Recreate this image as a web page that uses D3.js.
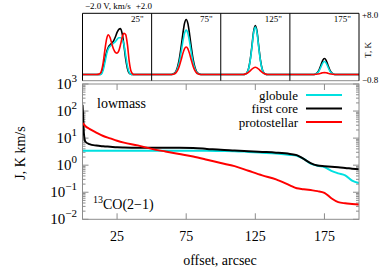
<!DOCTYPE html>
<html>
<head>
<meta charset="utf-8">
<script src="https://cdn.jsdelivr.net/npm/d3@7/dist/d3.min.js"></script>
<style>
  body { margin: 0; background: #fff; }
  text { font-family: "Liberation Serif", "Times New Roman", serif; fill: #000; }
</style>
</head>
<body>
<svg id="chart" width="389" height="272"></svg>
<script>
// ---- profile data (J vs offset) ----
let offsets = [0, 0.5, 1, 2, 5, 10, 15, 20, 25, 30, 40, 50, 60, 70, 80, 90, 100, 110, 120, 130,
               140, 150, 155, 160, 165, 170, 175, 180, 185, 190, 195, 200];
let globule = [3.4, 3.4, 3.4, 3.4, 3.4, 3.4, 3.4, 3.4, 3.4, 3.4, 3.4, 3.4, 3.4, 3.4, 3.4, 3.4, 3.35, 3.3, 3.1, 2.9,
               2.7, 2.4, 2.2, 1.7, 1.15, 0.95, 0.85, 0.62, 0.5, 0.42, 0.27, 0.22];
let firstCore = [170, 60, 15, 7.5, 6.0, 5.3, 5.0, 4.8, 4.6, 4.5, 4.4, 4.4, 4.4, 4.4, 4.3, 4.0, 3.7, 3.5, 3.3, 3.1,
                 2.9, 2.6, 2.35, 1.7, 1.2, 0.98, 0.92, 0.87, 0.83, 0.79, 0.74, 0.7];
let protostellar = [36, 34, 32, 28, 22, 16, 12, 9.8, 8.0, 6.8, 5.4, 4.0, 3.2, 2.6, 2.1, 1.6, 1.2, 0.92, 0.62, 0.42,
                    0.3, 0.18, 0.14, 0.13, 0.12, 0.11, 0.095, 0.06, 0.043, 0.039, 0.037, 0.035];

let seriesNames = ["globule", "first core", "protostellar"];
let seriesColors = ["#00e0e0", "#000000", "#ff0000"];

let yTicks = [1e-2, 1e-1, 1e0, 1e1, 1e2, 1e3];
let yTickExp = ["\u22122", "\u22121", "0", "1", "2", "3"];
let xTicks = [25, 75, 125, 175];

// ---- spectra (T vs V) at four offsets ----
let specOffsets = [25, 75, 125, 175];
let specLabels = ["25\"", "75\"", "125\"", "175\""];
let vel = [-2.0, -1.2, -1.0, -0.9, -0.8, -0.7, -0.6, -0.5, -0.4, -0.3, -0.2, -0.1, 0, 0.1, 0.2, 0.3,
           0.4, 0.5, 0.6, 0.7, 0.8, 0.9, 1.0, 1.2, 2.0];
let specGlobule = [
  [0, 0, 0, 0.1, 0.6, 1.6, 2.7, 3.4, 3.7, 3.9, 4.1, 4.3, 4.6, 4.8, 4.8, 4.6, 3.9, 2.5, 1.1, 0.3, 0.05, 0, 0, 0, 0],
  [0, 0, 0, 0, 0.03, 0.1, 0.3, 0.8, 1.6, 2.8, 4.2, 5.35, 5.8, 5.35, 4.2, 2.8, 1.6, 0.8, 0.3, 0.1, 0.03, 0, 0, 0, 0],
  [0, 0, 0, 0, 0, 0, 0.04, 0.18, 0.65, 1.75, 3.5, 5.4, 6.2, 5.4, 3.5, 1.75, 0.65, 0.18, 0.04, 0, 0, 0, 0, 0, 0],
  [0, 0, 0, 0, 0, 0, 0.02, 0.07, 0.22, 0.52, 1.0, 1.5, 1.7, 1.5, 1.0, 0.52, 0.22, 0.07, 0.02, 0, 0, 0, 0, 0, 0]
];
let specFirstCore = [
  [0, 0, 0, 0.2, 0.9, 2.0, 3.0, 3.6, 3.9, 4.1, 4.4, 4.9, 5.5, 5.9, 6.0, 5.3, 3.8, 2.0, 0.8, 0.2, 0.05, 0, 0, 0, 0],
  [0, 0, 0, 0, 0.05, 0.15, 0.4, 1.0, 2.0, 3.5, 5.2, 6.65, 7.2, 6.65, 5.2, 3.5, 2.0, 1.0, 0.4, 0.15, 0.05, 0, 0, 0, 0],
  [0, 0, 0, 0, 0, 0, 0.05, 0.2, 0.7, 1.85, 3.65, 5.6, 6.4, 5.6, 3.65, 1.85, 0.7, 0.2, 0.05, 0, 0, 0, 0, 0, 0],
  [0, 0, 0, 0, 0, 0, 0.02, 0.09, 0.27, 0.65, 1.25, 1.85, 2.1, 1.85, 1.25, 0.65, 0.27, 0.09, 0.02, 0, 0, 0, 0, 0, 0]
];
let specProtostellar = [
  [0, 0, 0.1, 0.5, 1.6, 3.3, 4.7, 5.2, 4.8, 4.0, 3.3, 2.9, 2.8, 3.1, 3.9, 4.9, 5.4, 5.2, 3.9, 1.8, 0.5, 0.1, 0, 0, 0],
  [0, 0, 0, 0, 0.02, 0.08, 0.22, 0.55, 1.1, 1.85, 2.7, 3.35, 3.6, 3.35, 2.7, 1.85, 1.1, 0.55, 0.22, 0.08, 0.02, 0, 0, 0, 0],
  [0, 0, 0, 0, 0, 0.02, 0.06, 0.14, 0.28, 0.48, 0.7, 0.88, 0.95, 0.88, 0.7, 0.48, 0.28, 0.14, 0.06, 0.02, 0, 0, 0, 0, 0],
  [0, 0, 0, 0, 0, 0, 0.015, 0.035, 0.07, 0.12, 0.18, 0.23, 0.25, 0.23, 0.18, 0.12, 0.07, 0.035, 0.015, 0, 0, 0, 0, 0, 0]
];

let svg = d3.select("#chart");
let left = 82.5, right = 359;
let mainTop = 84, mainBottom = 219.3;
let topTop = 13.3, topBottom = 80.7;
let frameGray = "#8c8c8c";

// ---------------- main panel ----------------
let x = d3.scaleLinear().domain([0, 200]).range([left, right]);
let y = d3.scaleLog().domain([1e-2, 1e3]).range([mainBottom, mainTop]);

svg.append("defs").append("clipPath").attr("id", "clipMain")
  .append("rect").attr("x", left).attr("y", mainTop)
  .attr("width", right - left).attr("height", mainBottom - mainTop);

// minor log ticks, left and right
let minor = [];
for (let e = -2; e < 3; e++) for (let m = 2; m <= 9; m++) minor.push(m * Math.pow(10, e));
let tickG = svg.append("g").attr("stroke", frameGray).attr("stroke-width", 1);
tickG.selectAll(".mnl").data(minor).enter().append("line")
  .attr("x1", left).attr("x2", left + 3)
  .attr("y1", d => y(d)).attr("y2", d => y(d));
tickG.selectAll(".mnr").data(minor).enter().append("line")
  .attr("x1", right).attr("x2", right - 3)
  .attr("y1", d => y(d)).attr("y2", d => y(d));
tickG.selectAll(".mjl").data(yTicks).enter().append("line")
  .attr("x1", left).attr("x2", left + 6)
  .attr("y1", d => y(d)).attr("y2", d => y(d));
tickG.selectAll(".mjr").data(yTicks).enter().append("line")
  .attr("x1", right).attr("x2", right - 6)
  .attr("y1", d => y(d)).attr("y2", d => y(d));
tickG.selectAll(".xb").data(xTicks).enter().append("line")
  .attr("x1", d => x(d)).attr("x2", d => x(d))
  .attr("y1", mainBottom).attr("y2", mainBottom - 6);
tickG.selectAll(".xt").data(xTicks).enter().append("line")
  .attr("x1", d => x(d)).attr("x2", d => x(d))
  .attr("y1", mainTop).attr("y2", mainTop + 6);

// y tick labels 10^n
let yl = svg.append("g").selectAll("text").data(yTicks).enter().append("text")
  .attr("x", 77).attr("y", d => y(d) + 5)
  .attr("text-anchor", "end").attr("font-size", 15);
yl.append("tspan").text("10");
yl.append("tspan").attr("dy", -7).attr("font-size", 11).text((d, i) => yTickExp[i]);

svg.append("g").selectAll("text").data(xTicks).enter().append("text")
  .attr("x", d => x(d)).attr("y", 241)
  .attr("text-anchor", "middle").attr("font-size", 14)
  .text(d => d);

svg.append("text").attr("x", 220).attr("y", 265)
  .attr("text-anchor", "middle").attr("font-size", 14)
  .text("offset, arcsec");
svg.append("text").attr("transform", "translate(25,153) rotate(-90)")
  .attr("text-anchor", "middle").attr("font-size", 14)
  .text("J, K km/s");

let line = d3.line()
  .x((d, i) => x(offsets[i]))
  .y(d => y(d))
  .curve(d3.curveMonotoneX);

let plotG = svg.append("g").attr("clip-path", "url(#clipMain)");
[globule, firstCore, protostellar].forEach((s, k) => {
  plotG.append("path").datum(s)
    .attr("d", line)
    .attr("fill", "none")
    .attr("stroke", seriesColors[k])
    .attr("stroke-width", 2);
});

svg.append("rect").attr("x", left).attr("y", mainTop)
  .attr("width", right - left).attr("height", mainBottom - mainTop)
  .attr("fill", "none").attr("stroke", frameGray).attr("stroke-width", 1);

svg.append("text").attr("x", 97).attr("y", 108).attr("font-size", 14).text("lowmass");
let co = svg.append("text").attr("x", 93).attr("y", 209).attr("font-size", 14);
co.append("tspan").attr("font-size", 10).attr("dy", -6).text("13");
co.append("tspan").attr("dy", 6).text("CO(2\u22121)");

// legend
let legend = svg.append("g").selectAll("g").data(seriesNames).enter().append("g")
  .attr("transform", (d, i) => "translate(0," + (95 + i * 13.5) + ")");
legend.append("text").attr("x", 298).attr("y", 4.5)
  .attr("text-anchor", "end").attr("font-size", 13)
  .text(d => d);
legend.append("line").attr("x1", 306).attr("x2", 342)
  .attr("stroke", (d, i) => seriesColors[i]).attr("stroke-width", 2);

// ---------------- spectra panel ----------------
let t = d3.scaleLinear().domain([-0.8, 8.0]).range([topBottom, topTop]);
let panelW = (right - left) / specOffsets.length;

specOffsets.forEach((off, p) => {
  let x0 = left + p * panelW;
  let v = d3.scaleLinear().domain([-2, 2]).range([x0, x0 + panelW]);
  let id = "clipSpec" + p;
  svg.select("defs").append("clipPath").attr("id", id)
    .append("rect").attr("x", x0).attr("y", topTop)
    .attr("width", panelW).attr("height", topBottom - topTop);
  let sl = d3.line().x((d, i) => v(vel[i])).y(d => t(d)).curve(d3.curveMonotoneX);
  let g = svg.append("g").attr("clip-path", "url(#" + id + ")");
  [[specFirstCore[p], seriesColors[1]], [specGlobule[p], seriesColors[0]], [specProtostellar[p], seriesColors[2]]]
    .forEach(s => {
      g.append("path").datum(s[0]).attr("d", sl)
        .attr("fill", "none").attr("stroke", s[1]).attr("stroke-width", 1.6);
    });
  svg.append("text").attr("x", x0 + panelW - 8).attr("y", 22)
    .attr("text-anchor", "end").attr("font-size", 9)
    .text(specLabels[p]);
});

// spectra frame: black top / sides / dividers, gray bottom
svg.append("line").attr("x1", left).attr("x2", right).attr("y1", topBottom).attr("y2", topBottom)
  .attr("stroke", frameGray).attr("stroke-width", 1);
svg.append("line").attr("x1", left).attr("x2", right).attr("y1", topTop).attr("y2", topTop)
  .attr("stroke", "#000").attr("stroke-width", 1);
svg.append("g").selectAll("line").data(d3.range(specOffsets.length + 1)).enter().append("line")
  .attr("x1", i => left + i * panelW).attr("x2", i => left + i * panelW)
  .attr("y1", topTop).attr("y2", topBottom)
  .attr("stroke", "#000").attr("stroke-width", 1);

svg.append("text").attr("x", 362).attr("y", 18).attr("font-size", 9).text("+8.0");
svg.append("text").attr("x", 362).attr("y", 83).attr("font-size", 9).text("\u22120.8");
svg.append("text").attr("transform", "translate(371,50) rotate(-90)")
  .attr("text-anchor", "middle").attr("font-size", 9).text("T, K");
svg.append("text").attr("x", 85).attr("y", 9).attr("font-size", 9).text("\u22122.0");
svg.append("text").attr("x", 117).attr("y", 9).attr("text-anchor", "middle").attr("font-size", 9).text("V, km/s");
svg.append("text").attr("x", 152).attr("y", 9).attr("text-anchor", "end").attr("font-size", 9).text("+2.0");
</script>
</body>
</html>
